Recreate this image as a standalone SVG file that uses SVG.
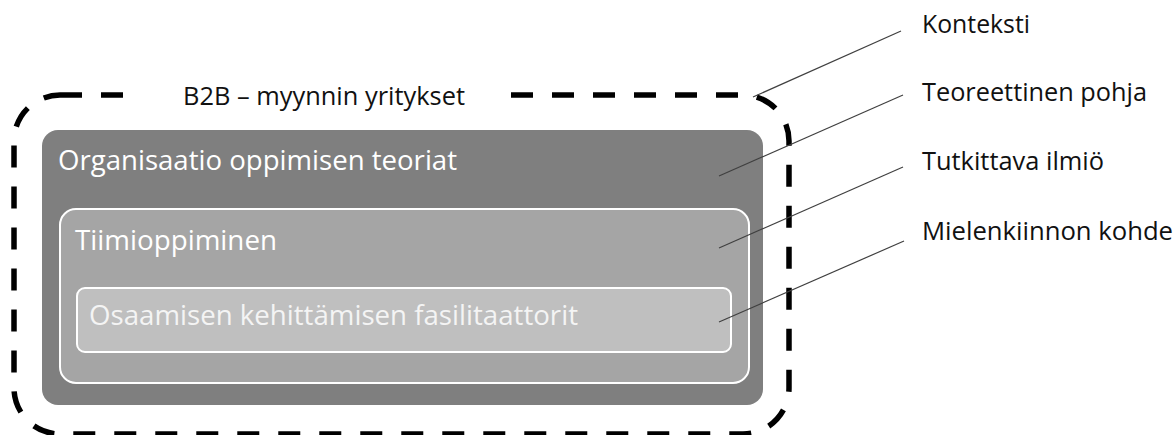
<svg xmlns="http://www.w3.org/2000/svg" width="1174" height="435" viewBox="0 0 1174 435">
  <style>
    .lbl { font-family: "Open Sans", "Liberation Sans", sans-serif; font-size: 25px; fill: #111111; }
    .box { font-family: "Open Sans", "Liberation Sans", sans-serif; font-size: 28px; fill: #ffffff; }
    .lead { stroke: #404040; stroke-width: 1.2; fill: none; }
  </style>
  <rect x="0" y="0" width="1174" height="435" fill="#ffffff"/>
  <g id="context">
    <rect x="14" y="95" width="775" height="339" rx="46" ry="46" fill="none" stroke="#000000" stroke-width="5.5" stroke-dasharray="22 19"/>
    <rect x="131" y="86" width="374" height="18" fill="#ffffff"/>
    <text class="lbl" x="183" y="105" textLength="282" lengthAdjust="spacingAndGlyphs">B2B – myynnin yritykset</text>
  </g>
  <g id="theory">
    <rect x="42" y="130" width="721" height="275" rx="16" ry="16" fill="#7f7f7f"/>
    <text class="box" x="58" y="170" textLength="399" lengthAdjust="spacingAndGlyphs">Organisaatio oppimisen teoriat</text>
  </g>
  <g id="phenomenon">
    <rect x="60" y="209" width="689" height="174" rx="16" ry="16" fill="#a5a5a5" stroke="#ffffff" stroke-width="2"/>
    <text class="box" x="75" y="250" textLength="202" lengthAdjust="spacingAndGlyphs">Tiimioppiminen</text>
  </g>
  <g id="focus">
    <rect x="77" y="288" width="654" height="64" rx="8" ry="8" fill="#bfbfbf" stroke="#ffffff" stroke-width="2"/>
    <text class="box" x="89" y="325" textLength="489" lengthAdjust="spacingAndGlyphs" style="fill:#f4f4f4">Osaamisen kehittämisen fasilitaattorit</text>
  </g>
  <g id="connectors">
    <line class="lead" x1="753" y1="97" x2="901" y2="31"/>
    <line class="lead" x1="719" y1="176" x2="903" y2="95"/>
    <line class="lead" x1="719" y1="248" x2="903" y2="167"/>
    <line class="lead" x1="719" y1="322" x2="904" y2="241"/>
  </g>
  <g id="labels">
    <text class="lbl" x="922" y="33" textLength="108" lengthAdjust="spacingAndGlyphs">Konteksti</text>
    <text class="lbl" x="922" y="101" textLength="225" lengthAdjust="spacingAndGlyphs">Teoreettinen pohja</text>
    <text class="lbl" x="922" y="170" textLength="182" lengthAdjust="spacingAndGlyphs">Tutkittava ilmiö</text>
    <text class="lbl" x="922" y="240" textLength="251" lengthAdjust="spacingAndGlyphs">Mielenkiinnon kohde</text>
  </g>
</svg>
